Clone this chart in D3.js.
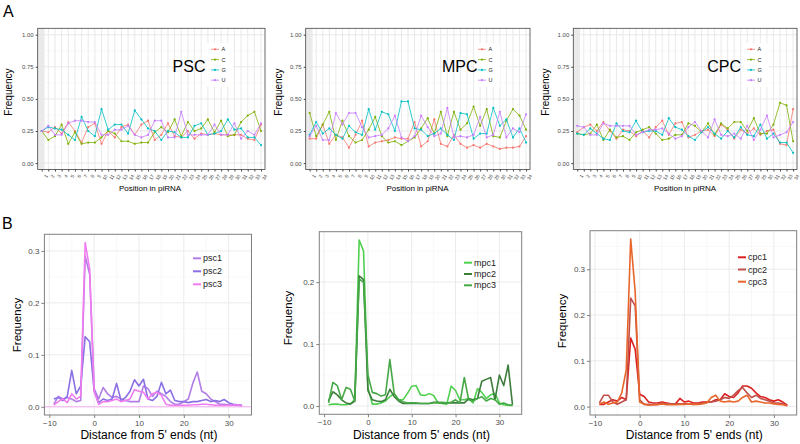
<!DOCTYPE html>
<html><head><meta charset="utf-8">
<script src="https://cdn.jsdelivr.net/npm/d3@7"></script>
<style>body{margin:0;background:#fff} text{font-family:"Liberation Sans",Arial,Helvetica,sans-serif}</style>
</head><body><svg id="c" width="800" height="444"></svg>
<script>
// ---------- DATA ----------
const positions = [1,2,3,4,5,6,7,8,9,10,11,12,13,14,15,16,17,18,19,20,21,22,23,24,25,26,27,28,29,30,31,32,33,34];
const bases = ["A","C","G","U"];
const baseColors = ["#F8766D","#7CAE00","#00BFC4","#C77CFF"];
const freqTicks = [0,0.25,0.5,0.75,1];

const pscA = [0.25,0.24,0.28,0.23,0.32,0.25,0.16,0.28,0.31,0.15,0.25,0.20,0.28,0.30,0.22,0.30,0.33,0.18,0.22,0.31,0.21,0.20,0.25,0.19,0.23,0.22,0.23,0.22,0.22,0.22,0.22,0.19,0.18,0.30];
const pscC = [0.25,0.18,0.21,0.30,0.15,0.24,0.15,0.16,0.16,0.20,0.25,0.23,0.17,0.17,0.15,0.16,0.16,0.24,0.28,0.24,0.34,0.21,0.32,0.25,0.27,0.34,0.24,0.33,0.21,0.22,0.32,0.37,0.40,0.25];
const pscG = [0.25,0.28,0.27,0.26,0.22,0.18,0.36,0.25,0.21,0.42,0.26,0.30,0.30,0.23,0.41,0.34,0.27,0.25,0.18,0.25,0.24,0.20,0.20,0.29,0.31,0.22,0.23,0.25,0.34,0.26,0.27,0.20,0.20,0.14];
const pscU = [0.25,0.29,0.22,0.22,0.31,0.33,0.33,0.32,0.32,0.22,0.22,0.26,0.26,0.29,0.22,0.20,0.22,0.33,0.33,0.20,0.20,0.40,0.22,0.22,0.22,0.22,0.30,0.22,0.22,0.31,0.19,0.25,0.22,0.31];

const mpcA = [0.19,0.19,0.30,0.15,0.22,0.20,0.12,0.22,0.33,0.13,0.16,0.17,0.18,0.20,0.19,0.19,0.32,0.13,0.17,0.34,0.15,0.13,0.22,0.15,0.12,0.14,0.12,0.15,0.13,0.11,0.12,0.12,0.13,0.21];
const mpcC = [0.39,0.21,0.30,0.40,0.18,0.33,0.21,0.16,0.18,0.26,0.36,0.21,0.16,0.17,0.14,0.17,0.20,0.27,0.35,0.23,0.40,0.21,0.40,0.26,0.31,0.44,0.29,0.42,0.21,0.20,0.33,0.42,0.37,0.26];
const mpcG = [0.22,0.32,0.23,0.27,0.22,0.19,0.29,0.24,0.22,0.42,0.26,0.40,0.38,0.25,0.48,0.48,0.27,0.26,0.21,0.23,0.27,0.22,0.18,0.39,0.38,0.19,0.23,0.23,0.43,0.29,0.34,0.20,0.27,0.16];
const mpcU = [0.21,0.29,0.18,0.18,0.39,0.30,0.39,0.39,0.28,0.20,0.21,0.22,0.27,0.37,0.20,0.17,0.21,0.37,0.28,0.21,0.23,0.43,0.20,0.21,0.20,0.22,0.36,0.20,0.22,0.40,0.20,0.27,0.24,0.38];

const cpcA = [0.24,0.28,0.30,0.25,0.32,0.25,0.19,0.26,0.25,0.21,0.25,0.20,0.28,0.33,0.22,0.31,0.32,0.20,0.22,0.25,0.26,0.21,0.30,0.26,0.19,0.26,0.23,0.27,0.22,0.25,0.26,0.15,0.14,0.42];
const cpcC = [0.23,0.22,0.23,0.30,0.18,0.26,0.20,0.21,0.18,0.24,0.26,0.28,0.23,0.18,0.19,0.22,0.22,0.31,0.29,0.24,0.31,0.22,0.31,0.27,0.32,0.32,0.25,0.35,0.23,0.23,0.30,0.47,0.45,0.17];
const cpcG = [0.23,0.22,0.27,0.23,0.19,0.18,0.31,0.25,0.24,0.33,0.24,0.25,0.25,0.22,0.35,0.28,0.26,0.21,0.18,0.24,0.28,0.23,0.19,0.25,0.20,0.28,0.22,0.21,0.30,0.19,0.23,0.16,0.16,0.08];
const cpcU = [0.29,0.28,0.22,0.22,0.31,0.29,0.29,0.29,0.29,0.22,0.24,0.26,0.26,0.27,0.23,0.19,0.21,0.28,0.32,0.25,0.20,0.34,0.22,0.21,0.23,0.19,0.29,0.18,0.26,0.37,0.20,0.22,0.24,0.32];

const distance = [-9,-8,-7,-6,-5,-4,-3,-2,-1,0,1,2,3,4,5,6,7,8,9,10,11,12,13,14,15,16,17,18,19,20,21,22,23,24,25,26,27,28,29,30,31,32,33];
const distTicks = [-10,0,10,20,30];

const psc1 = [0.005,0.020,0.015,0.018,0.015,0.010,0.012,0.290,0.255,0.035,0.015,0.037,0.025,0.018,0.020,0.015,0.012,0.010,0.010,0.010,0.040,0.035,0.020,0.030,0.025,0.020,0.010,0.005,0.005,0.010,0.015,0.045,0.067,0.030,0.025,0.015,0.010,0.005,0.005,0.004,0.003,0.003,0.002];
const psc2 = [0.015,0.018,0.012,0.020,0.070,0.025,0.040,0.135,0.125,0.030,0.008,0.015,0.012,0.015,0.045,0.012,0.018,0.030,0.052,0.040,0.053,0.015,0.012,0.020,0.047,0.025,0.032,0.012,0.010,0.010,0.008,0.010,0.010,0.012,0.014,0.010,0.012,0.010,0.014,0.008,0.005,0.004,0.003];
const psc3 = [0.003,0.010,0.015,0.008,0.025,0.015,0.020,0.316,0.265,0.030,0.005,0.010,0.010,0.012,0.015,0.010,0.012,0.015,0.033,0.030,0.028,0.015,0.025,0.028,0.022,0.005,0.003,0.003,0.003,0.003,0.003,0.004,0.004,0.005,0.005,0.004,0.003,0.003,0.003,0.003,0.003,0.004,0.002];

const mpc1 = [0.002,0.003,0.003,0.002,0.002,0.004,0.010,0.268,0.250,0.030,0.003,0.003,0.005,0.008,0.015,0.020,0.010,0.010,0.020,0.032,0.033,0.018,0.017,0.020,0.017,0.005,0.004,0.003,0.032,0.025,0.010,0.010,0.012,0.005,0.028,0.022,0.012,0.018,0.020,0.005,0.002,0.001,0.001];
const mpc2 = [0.008,0.023,0.018,0.010,0.005,0.003,0.008,0.210,0.204,0.025,0.010,0.008,0.007,0.010,0.027,0.015,0.008,0.004,0.004,0.004,0.004,0.004,0.004,0.004,0.006,0.006,0.005,0.005,0.005,0.005,0.005,0.005,0.012,0.010,0.012,0.040,0.043,0.046,0.010,0.050,0.033,0.066,0.002];
const mpc3 = [0.005,0.038,0.033,0.010,0.030,0.027,0.008,0.205,0.200,0.050,0.022,0.020,0.016,0.018,0.075,0.020,0.010,0.007,0.005,0.005,0.005,0.004,0.004,0.004,0.005,0.005,0.006,0.005,0.006,0.010,0.005,0.046,0.010,0.008,0.012,0.015,0.008,0.012,0.010,0.003,0.005,0.002,0.001];

const cpc1 = [0.005,0.005,0.010,0.015,0.012,0.020,0.015,0.150,0.125,0.027,0.022,0.010,0.008,0.008,0.010,0.008,0.006,0.006,0.018,0.010,0.012,0.008,0.008,0.010,0.010,0.010,0.015,0.015,0.028,0.022,0.020,0.030,0.045,0.045,0.040,0.030,0.022,0.020,0.015,0.012,0.015,0.010,0.003];
const cpc2 = [0.008,0.025,0.025,0.010,0.005,0.010,0.015,0.237,0.220,0.015,0.005,0.005,0.004,0.005,0.008,0.006,0.006,0.006,0.006,0.006,0.006,0.005,0.006,0.008,0.010,0.010,0.012,0.015,0.020,0.018,0.025,0.035,0.042,0.030,0.020,0.025,0.018,0.015,0.012,0.008,0.008,0.006,0.002];
const cpc3 = [0.005,0.010,0.005,0.008,0.010,0.030,0.080,0.366,0.250,0.010,0.005,0.003,0.004,0.004,0.006,0.004,0.004,0.004,0.005,0.005,0.006,0.005,0.005,0.006,0.008,0.020,0.025,0.012,0.010,0.012,0.010,0.012,0.020,0.025,0.010,0.012,0.010,0.008,0.008,0.006,0.005,0.004,0.002];

// ---------- DRAW ----------
const svg = d3.select("#c");
svg.append("rect").attr("width",800).attr("height",444).attr("fill","#fff");

function drawA(cfg){
  const g = svg.append("g");
  const x = d3.scaleLinear().domain([0.4,34.6]).range([cfg.left,cfg.right]);
  const y = d3.scaleLinear().domain([-0.05,1.05]).range([169.5,28.3]);
  const top = y.range()[1], bot = y.range()[0];
  g.append("rect").attr("x",cfg.left).attr("y",top).attr("width",cfg.right-cfg.left).attr("height",bot-top).attr("fill","#fff");
  g.append("rect").attr("x",cfg.left).attr("y",top).attr("width",x(1.45)-cfg.left).attr("height",bot-top).attr("fill","#ebebeb");
  const minor = [0.125,0.375,0.625,0.875];
  g.selectAll(null).data(minor).enter().append("line")
    .attr("x1",cfg.left).attr("x2",cfg.right).attr("y1",d=>y(d)).attr("y2",d=>y(d))
    .attr("stroke","#f2f2f2").attr("stroke-width",0.5);
  g.selectAll(null).data(freqTicks).enter().append("line")
    .attr("x1",cfg.left).attr("x2",cfg.right).attr("y1",d=>y(d)).attr("y2",d=>y(d))
    .attr("stroke","#e6e6e6").attr("stroke-width",0.9);
  g.selectAll(null).data(positions).enter().append("line")
    .attr("x1",d=>x(d)).attr("x2",d=>x(d)).attr("y1",top).attr("y2",bot)
    .attr("stroke","#e6e6e6").attr("stroke-width",0.9);
  // legend background
  const lx = cfg.right - cfg.legOff;
  g.append("rect").attr("x",lx-4).attr("y",43).attr("width",26).attr("height",44).attr("fill","#fff");
  // series
  const line = d3.line().x((d,i)=>x(positions[i])).y(d=>y(d));
  cfg.series.forEach((s,k)=>{
    g.append("path").datum(s).attr("d",line).attr("fill","none").attr("stroke",baseColors[k]).attr("stroke-width",0.8);
    g.selectAll(null).data(s).enter().append("circle")
      .attr("cx",(d,i)=>x(positions[i])).attr("cy",d=>y(d)).attr("r",1.1).attr("fill",baseColors[k]);
  });
  // border
  g.append("rect").attr("x",cfg.left).attr("y",top).attr("width",cfg.right-cfg.left).attr("height",bot-top)
    .attr("fill","none").attr("stroke","#444").attr("stroke-width",0.8);
  // axes
  const ay = g.append("g").attr("transform",`translate(${cfg.left},0)`)
    .call(d3.axisLeft(y).tickValues(freqTicks).tickFormat(d3.format(".2f")).tickSize(2).tickPadding(2));
  ay.select(".domain").remove();
  ay.selectAll("line").attr("stroke","#444");
  ay.selectAll("text").attr("font-size",6).attr("fill","#4d4d4d");
  const ax = g.append("g").attr("transform",`translate(0,${bot})`)
    .call(d3.axisBottom(x).tickValues(positions).tickFormat(d3.format("d")).tickSize(2).tickPadding(1));
  ax.select(".domain").remove();
  ax.selectAll("line").attr("stroke","#444");
  ax.selectAll("text").attr("font-size",5).attr("fill","#4d4d4d")
    .attr("text-anchor","end").attr("dy","0.3em")
    .attr("transform","translate(2,4) rotate(-60)");
  // legend
  bases.forEach((b,k)=>{
    const yy = 49.3 + k*10.3;
    g.append("line").attr("x1",lx).attr("x2",lx+8).attr("y1",yy).attr("y2",yy).attr("stroke",baseColors[k]).attr("stroke-width",0.8);
    g.append("circle").attr("cx",lx+4).attr("cy",yy).attr("r",1.1).attr("fill",baseColors[k]);
    g.append("text").attr("x",lx+10.5).attr("y",yy).attr("dy","0.35em").attr("font-size",5.5).attr("fill","#222").text(b);
  });
  g.append("text").attr("x",cfg.titleX).attr("y",72).attr("text-anchor","end").attr("font-size",16).attr("fill","#000").text(cfg.title);
  g.append("text").attr("transform",`translate(${cfg.yTitleX},92) rotate(-90)`).attr("text-anchor","middle").attr("dy","0.35em")
    .attr("font-size",10).attr("fill","#000").text("Frequency");
  g.append("text").attr("x",cfg.xTitleX).attr("y",190.7).attr("text-anchor","middle").attr("font-size",8).attr("fill","#000").text("Position in piRNA");
}

function drawB(cfg){
  const g = svg.append("g");
  const x = d3.scaleLinear().domain([-11.1,35.1]).range([cfg.left,cfg.right]);
  const y = d3.scaleLinear().domain(cfg.yDom).range([cfg.bottom,cfg.top]);
  const W = cfg.right-cfg.left, H = cfg.bottom-cfg.top;
  g.append("rect").attr("x",cfg.left).attr("y",cfg.top).attr("width",W).attr("height",H).attr("fill","#fff");
  const xMinor = [-5,5,15,25,35].filter(v=>v<=35.1);
  g.selectAll(null).data(xMinor).enter().append("line")
    .attr("x1",d=>x(d)).attr("x2",d=>x(d)).attr("y1",cfg.top).attr("y2",cfg.bottom).attr("stroke","#f4f4f4").attr("stroke-width",0.6);
  g.selectAll(null).data(cfg.yMinor).enter().append("line")
    .attr("x1",cfg.left).attr("x2",cfg.right).attr("y1",d=>y(d)).attr("y2",d=>y(d)).attr("stroke","#f4f4f4").attr("stroke-width",0.6);
  g.selectAll(null).data(distTicks).enter().append("line")
    .attr("x1",d=>x(d)).attr("x2",d=>x(d)).attr("y1",cfg.top).attr("y2",cfg.bottom).attr("stroke","#ebebeb").attr("stroke-width",1);
  g.selectAll(null).data(cfg.yTicks).enter().append("line")
    .attr("x1",cfg.left).attr("x2",cfg.right).attr("y1",d=>y(d)).attr("y2",d=>y(d)).attr("stroke","#ebebeb").attr("stroke-width",1);
  if (cfg.zeroLine) {
    g.append("line").attr("x1",cfg.left).attr("x2",cfg.right).attr("y1",y(0)).attr("y2",y(0)).attr("stroke",cfg.zeroLine).attr("stroke-width",1);
  }
  const line = d3.line().x((d,i)=>x(distance[i])).y(d=>y(d));
  cfg.series.forEach((s,k)=>{
    g.append("path").datum(s).attr("d",line).attr("fill","none").attr("stroke",cfg.colors[k])
      .attr("stroke-width",1.6).attr("stroke-linejoin","round");
  });
  g.append("rect").attr("x",cfg.left).attr("y",cfg.top).attr("width",W).attr("height",H)
    .attr("fill","none").attr("stroke","#808080").attr("stroke-width",1);
  const ay = g.append("g").attr("transform",`translate(${cfg.left},0)`)
    .call(d3.axisLeft(y).tickValues(cfg.yTicks).tickFormat(d3.format(".1f")).tickSize(3).tickPadding(2));
  ay.select(".domain").remove();
  ay.selectAll("line").attr("stroke","#808080");
  ay.selectAll("text").attr("font-size",8).attr("fill","#4d4d4d");
  const ax = g.append("g").attr("transform",`translate(0,${cfg.bottom})`)
    .call(d3.axisBottom(x).tickValues(distTicks).tickFormat(d3.format("d")).tickSize(3).tickPadding(2));
  ax.select(".domain").remove();
  ax.selectAll("line").attr("stroke","#808080");
  ax.selectAll("text").attr("font-size",8).attr("fill","#4d4d4d");
  cfg.labels.forEach((lab,k)=>{
    const yy = cfg.legY + k*cfg.legStep;
    g.append("line").attr("x1",cfg.legX).attr("x2",cfg.legX+8).attr("y1",yy).attr("y2",yy).attr("stroke",cfg.colors[k]).attr("stroke-width",2);
    g.append("text").attr("x",cfg.legX+10).attr("y",yy).attr("dy","0.35em").attr("font-size",9).attr("fill","#222").text(lab);
  });
  g.append("text").attr("transform",`translate(${cfg.yTitleX},${cfg.yTitleY}) rotate(-90)`).attr("text-anchor","middle").attr("dy","0.35em")
    .attr("font-size",11.5).attr("fill","#000").text("Frequency");
  g.append("text").attr("x",(cfg.left+cfg.right)/2+1).attr("y",439).attr("text-anchor","middle").attr("font-size",12).attr("fill","#000").text("Distance from 5' ends (nt)");
}

drawA({left:37.7,right:265,series:[pscA,pscC,pscG,pscU],title:"PSC",titleX:205.5,legOff:54,yTitleX:8.3,xTitleX:150});
drawA({left:305.7,right:530,series:[mpcA,mpcC,mpcG,mpcU],title:"MPC",titleX:477.5,legOff:52,yTitleX:278.3,xTitleX:417.5});
drawA({left:573.3,right:797,series:[cpcA,cpcC,cpcG,cpcU],title:"CPC",titleX:741,legOff:50,yTitleX:545,xTitleX:685});

drawB({left:44.4,right:251.5,top:234.3,bottom:415,yDom:[-0.0158,0.332],yTicks:[0,0.1,0.2,0.3],yMinor:[0.05,0.15,0.25],
  series:[psc1,psc2,psc3],colors:["#b17ee8","#8b6fe4","#f07cf0"],labels:["psc1","psc2","psc3"],
  legX:193,legY:258.3,legStep:13,yTitleX:16.7,yTitleY:325,zeroLine:"#f4b0f4"});
drawB({left:319.3,right:521.7,top:231.7,bottom:414.3,yDom:[-0.0134,0.2814],yTicks:[0,0.1,0.2],yMinor:[0.05,0.15,0.25],
  series:[mpc1,mpc2,mpc3],colors:["#50d050","#3c7d3c","#47a847"],labels:["mpc1","mpc2","mpc3"],
  legX:464,legY:262.7,legStep:11.3,yTitleX:288.3,yTitleY:318});
drawB({left:590,right:796.7,top:230.7,bottom:415,yDom:[-0.0183,0.3843],yTicks:[0,0.1,0.2,0.3],yMinor:[0.05,0.15,0.25,0.35],
  series:[cpc1,cpc2,cpc3],colors:["#dc2020","#c0504a","#e8652b"],labels:["cpc1","cpc2","cpc3"],
  legX:738,legY:257.3,legStep:12.2,yTitleX:561.7,yTitleY:321});

svg.append("text").attr("x",3).attr("y",17).attr("font-size",16).attr("fill","#000").text("A");
svg.append("text").attr("x",2).attr("y",228.5).attr("font-size",16).attr("fill","#000").text("B");
</script></body></html>
